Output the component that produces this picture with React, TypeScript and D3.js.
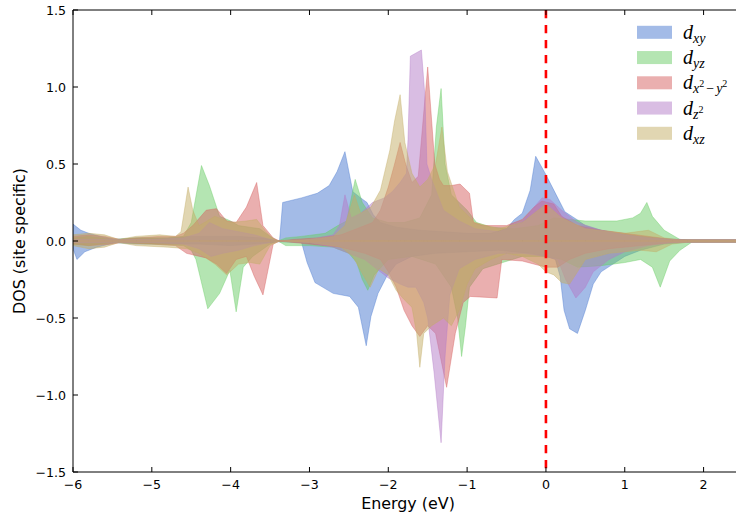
import React from 'react';
import * as d3 from 'd3';

type P = [number, number];

const xTicks = [-6, -5, -4, -3, -2, -1, 0, 1, 2];
const yTicks = [-1.5, -1.0, -0.5, 0.0, 0.5, 1.0, 1.5];

const dxyUp: P[] = [[-6.0,0.11],[-5.9,0.07],[-5.8,0.05],[-5.65,0.03],[-5.45,0.01],[-5.2,0.02],[-4.8,0.02],[-4.5,0.03],[-4.2,0.03],[-3.9,0.03],[-3.6,0.02],[-3.45,0.005],[-3.38,0.0],[-3.34,0.25],[-3.1,0.28],[-2.9,0.31],[-2.75,0.36],[-2.65,0.45],[-2.55,0.58],[-2.45,0.32],[-2.35,0.28],[-2.27,0.25],[-2.19,0.17],[-2.1,0.12],[-1.9,0.09],[-1.6,0.07],[-1.3,0.06],[-1.0,0.05],[-0.7,0.05],[-0.5,0.08],[-0.4,0.14],[-0.3,0.18],[-0.2,0.33],[-0.13,0.55],[0.0,0.43],[0.14,0.29],[0.24,0.19],[0.39,0.14],[0.5,0.1],[0.7,0.07],[0.9,0.05],[1.2,0.03],[1.5,0.015],[1.8,0.008],[2.5,0.008]];
const dxyDown: P[] = [[-6.0,-0.05],[-5.95,-0.12],[-5.85,-0.07],[-5.7,-0.04],[-5.45,-0.01],[-5.2,-0.02],[-4.8,-0.02],[-4.4,-0.02],[-4.0,-0.03],[-3.7,-0.02],[-3.4,-0.005],[-3.1,-0.01],[-3.03,-0.14],[-2.93,-0.27],[-2.7,-0.34],[-2.49,-0.36],[-2.38,-0.43],[-2.28,-0.68],[-2.22,-0.49],[-2.13,-0.34],[-2.02,-0.23],[-1.9,-0.15],[-1.7,-0.1],[-1.4,-0.08],[-1.0,-0.07],[-0.6,-0.06],[-0.2,-0.08],[0.0,-0.1],[0.12,-0.12],[0.18,-0.23],[0.23,-0.45],[0.3,-0.57],[0.4,-0.6],[0.5,-0.45],[0.6,-0.28],[0.7,-0.2],[0.85,-0.15],[1.0,-0.1],[1.2,-0.06],[1.5,-0.02],[1.8,-0.008],[2.5,-0.008]];

const dyzUp: P[] = [[-6.0,0.02],[-5.8,0.03],[-5.5,0.01],[-5.2,0.02],[-4.8,0.02],[-4.6,0.03],[-4.5,0.12],[-4.37,0.49],[-4.27,0.36],[-4.14,0.16],[-4.0,0.13],[-3.9,0.1],[-3.63,0.08],[-3.5,0.03],[-3.4,0.0],[-3.3,0.02],[-3.1,0.03],[-2.8,0.05],[-2.64,0.1],[-2.53,0.13],[-2.42,0.4],[-2.33,0.25],[-2.2,0.15],[-2.0,0.12],[-1.8,0.12],[-1.6,0.15],[-1.45,0.3],[-1.39,0.74],[-1.33,0.99],[-1.28,0.5],[-1.2,0.3],[-1.0,0.2],[-0.88,0.12],[-0.7,0.09],[-0.4,0.08],[-0.1,0.1],[0.1,0.15],[0.3,0.14],[0.5,0.13],[0.7,0.13],[0.9,0.13],[1.1,0.15],[1.2,0.18],[1.28,0.25],[1.35,0.16],[1.5,0.07],[1.7,0.01],[1.85,0.008],[2.5,0.008]];
const dyzDown: P[] = [[-6.0,-0.02],[-5.8,-0.03],[-5.5,-0.01],[-5.0,-0.02],[-4.6,-0.03],[-4.5,-0.06],[-4.44,-0.12],[-4.29,-0.44],[-4.14,-0.34],[-4.01,-0.19],[-3.93,-0.46],[-3.84,-0.17],[-3.72,-0.1],[-3.5,-0.02],[-3.4,0.0],[-3.3,-0.03],[-3.0,-0.03],[-2.7,-0.04],[-2.5,-0.08],[-2.4,-0.14],[-2.33,-0.25],[-2.26,-0.32],[-2.18,-0.22],[-2.0,-0.12],[-1.7,-0.1],[-1.4,-0.15],[-1.2,-0.3],[-1.12,-0.5],[-1.07,-0.75],[-1.02,-0.55],[-0.97,-0.3],[-0.8,-0.18],[-0.55,-0.14],[-0.3,-0.1],[0.0,-0.1],[0.2,-0.12],[0.4,-0.17],[0.7,-0.16],[1.0,-0.14],[1.2,-0.12],[1.35,-0.17],[1.45,-0.3],[1.57,-0.13],[1.7,-0.06],[1.85,-0.008],[2.5,-0.008]];

const dx2y2Up: P[] = [[-6.0,0.03],[-5.8,0.04],[-5.6,0.03],[-5.4,0.01],[-5.2,0.02],[-4.9,0.03],[-4.7,0.03],[-4.6,0.05],[-4.48,0.1],[-4.31,0.2],[-4.18,0.21],[-4.05,0.13],[-3.93,0.12],[-3.8,0.22],[-3.67,0.38],[-3.59,0.1],[-3.46,0.02],[-3.38,0.0],[-3.2,0.01],[-2.9,0.02],[-2.6,0.04],[-2.4,0.08],[-2.2,0.12],[-2.1,0.2],[-2.0,0.35],[-1.92,0.5],[-1.85,0.64],[-1.78,0.5],[-1.7,0.38],[-1.62,0.42],[-1.5,1.13],[-1.46,0.85],[-1.41,0.5],[-1.35,0.4],[-1.3,0.36],[-1.2,0.36],[-1.09,0.37],[-0.97,0.31],[-0.92,0.12],[-0.8,0.1],[-0.5,0.1],[-0.3,0.14],[-0.15,0.22],[-0.05,0.26],[0.1,0.24],[0.2,0.16],[0.4,0.1],[0.7,0.07],[1.0,0.05],[1.3,0.03],[1.6,0.01],[1.8,0.008],[2.5,0.008]];
const dx2y2Down: P[] = [[-6.0,-0.02],[-5.8,-0.03],[-5.5,-0.02],[-5.4,-0.01],[-5.0,-0.02],[-4.7,-0.03],[-4.56,-0.08],[-4.31,-0.11],[-4.18,-0.15],[-4.05,-0.21],[-3.93,-0.12],[-3.8,-0.1],[-3.7,-0.23],[-3.59,-0.35],[-3.46,-0.02],[-3.38,0.0],[-3.0,-0.02],[-2.6,-0.04],[-2.3,-0.08],[-2.1,-0.12],[-2.0,-0.2],[-1.9,-0.3],[-1.8,-0.45],[-1.7,-0.55],[-1.6,-0.62],[-1.5,-0.55],[-1.4,-0.6],[-1.3,-0.85],[-1.26,-0.95],[-1.15,-0.6],[-1.05,-0.4],[-0.96,-0.36],[-0.62,-0.37],[-0.56,-0.12],[-0.3,-0.13],[0.0,-0.17],[0.15,-0.17],[0.3,-0.12],[0.5,-0.08],[0.8,-0.05],[1.2,-0.03],[1.6,-0.01],[1.8,-0.008],[2.5,-0.008]];

const dz2Up: P[] = [[-6.0,0.01],[-5.5,0.01],[-5.0,0.01],[-4.6,0.02],[-4.4,0.05],[-4.27,0.12],[-4.1,0.08],[-3.9,0.06],[-3.7,0.04],[-3.5,0.01],[-3.38,0.0],[-3.0,0.01],[-2.7,0.04],[-2.62,0.1],[-2.55,0.3],[-2.47,0.15],[-2.35,0.18],[-2.2,0.25],[-2.05,0.28],[-1.95,0.32],[-1.85,0.38],[-1.77,0.44],[-1.75,0.66],[-1.72,1.2],[-1.58,1.24],[-1.535,0.94],[-1.51,0.5],[-1.45,0.4],[-1.3,0.2],[-1.1,0.13],[-0.9,0.08],[-0.6,0.06],[-0.3,0.12],[-0.15,0.22],[-0.05,0.28],[0.05,0.27],[0.2,0.2],[0.4,0.12],[0.7,0.07],[1.0,0.04],[1.3,0.02],[1.6,0.01],[1.8,0.008],[2.5,0.008]];
const dz2Down: P[] = [[-6.0,-0.01],[-5.5,-0.01],[-5.0,-0.01],[-4.6,-0.02],[-4.4,-0.05],[-4.25,-0.1],[-4.1,-0.08],[-3.9,-0.06],[-3.7,-0.03],[-3.5,-0.01],[-3.38,0.0],[-3.0,-0.01],[-2.7,-0.04],[-2.5,-0.08],[-2.3,-0.12],[-2.15,-0.18],[-2.0,-0.24],[-1.85,-0.28],[-1.75,-0.3],[-1.65,-0.3],[-1.55,-0.4],[-1.5,-0.5],[-1.42,-0.85],[-1.33,-1.31],[-1.28,-0.75],[-1.22,-0.35],[-1.1,-0.18],[-0.9,-0.12],[-0.6,-0.08],[-0.3,-0.08],[0.0,-0.1],[0.15,-0.12],[0.25,-0.25],[0.38,-0.37],[0.5,-0.3],[0.6,-0.2],[0.8,-0.12],[1.0,-0.07],[1.3,-0.03],[1.6,-0.01],[1.8,-0.008],[2.5,-0.008]];

const dxzUp: P[] = [[-6.0,0.04],[-5.8,0.05],[-5.6,0.04],[-5.42,0.01],[-5.2,0.03],[-4.9,0.04],[-4.7,0.03],[-4.63,0.06],[-4.54,0.35],[-4.48,0.2],[-4.4,0.1],[-4.3,0.13],[-4.2,0.16],[-4.0,0.12],[-3.8,0.13],[-3.67,0.14],[-3.55,0.06],[-3.45,0.01],[-3.38,0.0],[-3.0,0.01],[-2.7,0.03],[-2.55,0.1],[-2.43,0.3],[-2.35,0.18],[-2.22,0.22],[-2.1,0.33],[-1.98,0.59],[-1.92,0.78],[-1.85,0.95],[-1.79,0.64],[-1.7,0.44],[-1.6,0.35],[-1.5,0.4],[-1.4,0.5],[-1.32,0.74],[-1.25,0.45],[-1.1,0.22],[-0.9,0.12],[-0.6,0.08],[-0.3,0.12],[-0.1,0.2],[0.0,0.24],[0.2,0.15],[0.5,0.08],[1.0,0.05],[1.3,0.07],[1.5,0.02],[1.7,0.008],[2.5,0.008]];
const dxzDown: P[] = [[-6.0,-0.03],[-5.8,-0.05],[-5.6,-0.04],[-5.42,-0.01],[-5.2,-0.03],[-4.8,-0.04],[-4.55,-0.05],[-4.4,-0.08],[-4.2,-0.15],[-4.05,-0.22],[-3.9,-0.15],[-3.75,-0.14],[-3.63,-0.15],[-3.5,-0.03],[-3.38,0.0],[-3.0,-0.01],[-2.6,-0.04],[-2.45,-0.1],[-2.32,-0.22],[-2.23,-0.3],[-2.12,-0.18],[-2.0,-0.22],[-1.9,-0.32],[-1.8,-0.38],[-1.7,-0.43],[-1.64,-0.6],[-1.6,-0.82],[-1.55,-0.6],[-1.45,-0.55],[-1.3,-0.5],[-1.2,-0.55],[-1.1,-0.45],[-1.0,-0.28],[-0.9,-0.18],[-0.7,-0.12],[-0.5,-0.08],[-0.3,-0.1],[-0.1,-0.15],[0.0,-0.2],[0.1,-0.22],[0.2,-0.27],[0.3,-0.28],[0.4,-0.2],[0.5,-0.12],[0.8,-0.08],[1.2,-0.06],[1.4,-0.07],[1.6,-0.02],[1.8,-0.008],[2.5,-0.008]];

const seriesNames = ['dxy', 'dyz', 'dx2y2', 'dz2', 'dxz'];
const seriesColors = ['#4878CF', '#6ACC65', '#D65F5F', '#B47CC7', '#C4AD66'];
const seriesUp = [dxyUp, dyzUp, dx2y2Up, dz2Up, dxzUp];
const seriesDown = [dxyDown, dyzDown, dx2y2Down, dz2Down, dxzDown];

const fermiLevel = 0;

const L = 73, R = 743, T = 10, B = 472;

function LegendLabel({ name, x, y }: { name: string; x: number; y: number }) {
  const big = 20, sub = 14, sup = 10;
  const common = { fontFamily: '"Liberation Serif", serif', fontStyle: 'italic' as const };
  if (name === 'dx2y2') {
    return (
      <text x={x} y={y} {...common} fontSize={big} fill="#000">
        d
        <tspan dy={4} fontSize={sub}>x</tspan>
        <tspan dy={-6} fontSize={sup} fontStyle="normal">2</tspan>
        <tspan dy={6} dx={2} fontSize={sub} fontStyle="normal">{'\u2212'}</tspan>
        <tspan dx={2} fontSize={sub}>y</tspan>
        <tspan dy={-6} fontSize={sup} fontStyle="normal">2</tspan>
      </text>
    );
  }
  if (name === 'dz2') {
    return (
      <text x={x} y={y} {...common} fontSize={big} fill="#000">
        d
        <tspan dy={4} fontSize={sub}>z</tspan>
        <tspan dy={-6} fontSize={sup} fontStyle="normal">2</tspan>
      </text>
    );
  }
  const s = name.slice(1);
  return (
    <text x={x} y={y} {...common} fontSize={big} fill="#000">
      d
      <tspan dy={4} fontSize={sub}>{s}</tspan>
    </text>
  );
}

export default function App() {
  const x = d3.scaleLinear().domain([-6, 2.5]).range([L, R]);
  const y = d3.scaleLinear().domain([-1.5, 1.5]).range([B, T]);
  const area = d3
    .area<P>()
    .x((d) => x(d[0]))
    .y0(y(0))
    .y1((d) => y(d[1]));

  const fmtY = (v: number) => (v < 0 ? '\u2212' : '') + Math.abs(v).toFixed(1);
  const fmtX = (v: number) => (v < 0 ? '\u2212' : '') + Math.abs(v).toString();
  const tickFont = { fontFamily: '"DejaVu Sans", sans-serif', fontSize: 12.6 };
  const tickLen = 5;

  return (
    <svg
      width={736}
      height={523}
      style={{ position: 'absolute', left: 0, top: 0, background: '#fff' }}
    >
      <rect x={0} y={0} width={736} height={523} fill="#fff" />
      <defs>
        <clipPath id="plotclip">
          <rect x={L} y={T} width={R - L} height={B - T} />
        </clipPath>
      </defs>
      <g clipPath="url(#plotclip)">
        {seriesNames.map((n, i) => (
          <g key={n}>
            <path
              d={area(seriesUp[i]) || ''}
              fill={seriesColors[i]}
              fillOpacity={0.5}
              stroke={seriesColors[i]}
              strokeOpacity={0.5}
              strokeWidth={0.8}
            />
            <path
              d={area(seriesDown[i]) || ''}
              fill={seriesColors[i]}
              fillOpacity={0.5}
              stroke={seriesColors[i]}
              strokeOpacity={0.5}
              strokeWidth={0.8}
            />
          </g>
        ))}
        <line
          x1={x(fermiLevel)}
          x2={x(fermiLevel)}
          y1={T}
          y2={B}
          stroke="#ff0000"
          strokeWidth={2.6}
          strokeDasharray="8.3 6.7"
        />
      </g>
      <g stroke="#000" strokeWidth={1} fill="none">
        <line x1={L} x2={L} y1={T} y2={B} />
        <line x1={L} x2={R} y1={B} y2={B} />
        <line x1={L} x2={R} y1={T} y2={T} />
        <line x1={R} x2={R} y1={T} y2={B} />
      </g>
      {xTicks.map((t) => (
        <g key={'x' + t}>
          <line x1={x(t)} x2={x(t)} y1={B} y2={B - tickLen} stroke="#000" strokeWidth={1} />
          <line x1={x(t)} x2={x(t)} y1={T} y2={T + tickLen} stroke="#000" strokeWidth={1} />
          <text x={x(t)} y={489} textAnchor="middle" {...tickFont} fill="#000">
            {fmtX(t)}
          </text>
        </g>
      ))}
      {yTicks.map((t) => (
        <g key={'y' + t}>
          <line x1={L} x2={L + tickLen} y1={y(t)} y2={y(t)} stroke="#000" strokeWidth={1} />
          <text x={66} y={y(t)} dy="0.36em" textAnchor="end" {...tickFont} fill="#000">
            {fmtY(t)}
          </text>
        </g>
      ))}
      <text
        x={(L + R) / 2}
        y={509}
        textAnchor="middle"
        fontFamily='"DejaVu Sans", sans-serif'
        fontSize={15.9}
        fill="#000"
      >
        Energy (eV)
      </text>
      <text
        transform={`translate(25,${(T + B) / 2}) rotate(-90)`}
        textAnchor="middle"
        fontFamily='"DejaVu Sans", sans-serif'
        fontSize={15.9}
        fill="#000"
      >
        DOS (site specific)
      </text>
      {seriesNames.map((n, i) => {
        const cy = 32.3 + i * 25.25;
        return (
          <g key={'leg' + n}>
            <rect x={637} y={cy - 6.5} width={35} height={13} fill={seriesColors[i]} fillOpacity={0.5} />
            <LegendLabel name={n} x={683} y={cy + 6.5} />
          </g>
        );
      })}
    </svg>
  );
}
